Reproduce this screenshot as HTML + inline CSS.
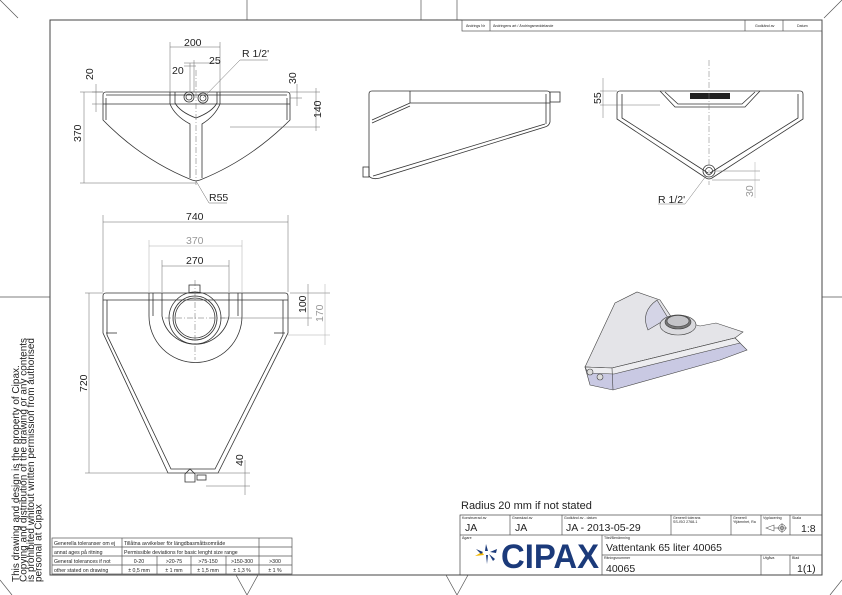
<!DOCTYPE html>
<html><head><meta charset="utf-8"><style>
html,body{margin:0;padding:0;background:#fff}
svg{display:block}
text{font-family:"Liberation Sans",sans-serif}
</style></head><body>
<svg width="842" height="595" viewBox="0 0 842 595" xmlns="http://www.w3.org/2000/svg">
<g fill="none" stroke="#555" stroke-width="0.7">
<rect x="50" y="20" width="772" height="555" stroke="#444" stroke-width="1"/>
<line x1="247" y1="0" x2="247" y2="20"/><line x1="421" y1="0" x2="421" y2="20"/><line x1="457" y1="0" x2="457" y2="20"/>
<line x1="0" y1="297" x2="50" y2="297"/><line x1="822" y1="297" x2="842" y2="297"/>
<line x1="0" y1="0" x2="18" y2="18"/><line x1="842" y1="0" x2="824" y2="18"/>
<polyline points="0,580 12,595"/><polyline points="842,580 830,595"/>
<polyline points="236,575 247,595 258,575"/><polyline points="446,575 457,595 468,575"/>
<rect x="462" y="20" width="360" height="11"/>
<line x1="490" y1="20" x2="490" y2="31"/><line x1="745" y1="20" x2="745" y2="31"/><line x1="783" y1="20" x2="783" y2="31"/>
<rect x="460" y="515" width="362" height="60" stroke="#444"/>
<line x1="460" y1="535" x2="822" y2="535"/><line x1="602" y1="555" x2="822" y2="555"/>
<line x1="602" y1="535" x2="602" y2="575"/>
<line x1="510" y1="515" x2="510" y2="535"/><line x1="562" y1="515" x2="562" y2="535"/><line x1="671" y1="515" x2="671" y2="535"/>
<line x1="731" y1="515" x2="731" y2="535"/><line x1="761" y1="515" x2="761" y2="535"/><line x1="790" y1="515" x2="790" y2="535"/>
<line x1="761" y1="555" x2="761" y2="575"/><line x1="790" y1="555" x2="790" y2="575"/>
<rect x="52" y="538" width="240" height="36"/>
<line x1="52" y1="547" x2="292" y2="547"/><line x1="52" y1="556" x2="292" y2="556"/><line x1="52" y1="565" x2="292" y2="565"/>
<line x1="122" y1="538" x2="122" y2="574"/><line x1="259" y1="538" x2="259" y2="574"/>
<line x1="157" y1="556" x2="157" y2="574"/><line x1="191" y1="556" x2="191" y2="574"/><line x1="226" y1="556" x2="226" y2="574"/>
</g>

<g fill="#222" font-size="3.6">
<text x="466" y="27">Ändrings Nr</text><text x="493" y="27">Ändringens art / Ändringsmeddelande</text>
<text x="755" y="27">Godkänd av</text><text x="797" y="27">Datum</text>
<text x="462" y="519">Konstruerad av</text><text x="512" y="519">Granskad av</text><text x="564" y="519">Godkänd av - datum</text>
<text x="673" y="519">Generell tolerans</text><text x="673" y="523">SS-ISO 2768-1</text>
<text x="733" y="519">Generell</text><text x="733" y="523">Ytjämnhet, Ra</text>
<text x="763" y="519">Vyplacering</text><text x="792" y="519">Skala</text>
<text x="462" y="539">Ägare</text><text x="604" y="539">Titel/Benämning</text>
<text x="604" y="559">Ritningsnummer</text><text x="763" y="559">Utgåva</text><text x="792" y="559">Blad</text>
</g>
<g fill="#222" font-size="10.5">
<text x="465" y="531">JA</text><text x="515" y="531">JA</text><text x="566" y="531">JA - 2013-05-29</text>
<text x="801" y="532">1:8</text>
<text x="606" y="551">Vattentank 65 liter 40065</text>
<text x="606" y="572">40065</text><text x="797" y="572">1(1)</text>
</g>
<text x="461" y="509" font-size="11" fill="#222">Radius 20 mm if not stated</text>
<g fill="none" stroke="#555" stroke-width="0.6">
<path d="M766 528 L774 525 L774 531 Z"/><line x1="774" y1="528" x2="778" y2="528"/>
<circle cx="782" cy="528" r="3.5"/><circle cx="782" cy="528" r="1.8"/>
<line x1="777" y1="528" x2="787" y2="528"/><line x1="782" y1="523" x2="782" y2="533"/>
</g>
<g fill="#f2b600"><path d="M475 556 L482 552 L484 555 Z"/></g>
<g fill="#1b3a7a">
<path d="M486 544 L488 551 L485 551 Z"/><path d="M476 549 L483 552 L481 554 Z"/>
<path d="M490 552 L497 549 L496 553 Z"/><path d="M486 555 L488 555 L487 564 Z"/><path d="M489 554 L495 559 L493 561 Z"/>
</g>
<text x="501" y="568" font-size="34" font-weight="bold" fill="#1b3a7a" textLength="98" lengthAdjust="spacingAndGlyphs">CIPAX</text>

<g fill="#222" font-size="5.2">
<text x="54" y="545">Generella toleranser om ej</text><text x="124" y="545">Tillåtna avvikelser för längdbasmåttsområde</text>
<text x="54" y="554">annat ages på ritning</text><text x="124" y="554">Permissible deviations for basic lenght size range</text>
<text x="54" y="563">General tolerances if not</text><text x="54" y="572">other stated on drawing</text>
<g text-anchor="middle">
<text x="139" y="563">0-20</text><text x="174" y="563">&gt;20-75</text><text x="208" y="563">&gt;75-150</text><text x="242" y="563">&gt;150-300</text><text x="275" y="563">&gt;300</text>
<text x="139" y="572">± 0,5 mm</text><text x="174" y="572">± 1 mm</text><text x="208" y="572">± 1,5 mm</text><text x="242" y="572">± 1,3 %</text><text x="275" y="572">± 1 %</text>
</g></g>
<g fill="#222" font-size="10" transform="translate(19,582) rotate(-90)">
<text x="0" y="0">This drawing and design is the property of Cipax.</text>
<text x="0" y="7.5">Copying and distribution of the drawing or any contents</text>
<text x="0" y="15">is prohibited whitout written permission from authorised</text>
<text x="0" y="22.5">personal at Cipax</text>
</g>

<g fill="none" stroke="#333" stroke-width="0.8">
<path d="M106 92 L287 92 Q290 92 290 95 L290 120 Q250 160 200 180 L196 181 L192 180 Q142 160 103 120 L103 95 Q103 92 106 92 Z"/>
<line x1="103" y1="104" x2="290" y2="104"/><line x1="106" y1="95" x2="287" y2="95"/>
<line x1="106" y1="98" x2="106" y2="120"/><line x1="287" y1="98" x2="287" y2="120"/>
<path d="M170 92 L170 104 Q175 116 190 124 L190 178"/>
<path d="M220 92 L220 104 Q215 116 202 124 L202 178"/>
<path d="M175 92 L175 103 Q180 112 196 118 Q212 112 217 103 L217 92"/>
<circle cx="189" cy="97" r="5"/><circle cx="189" cy="97" r="3"/>
<circle cx="203" cy="98" r="5"/><circle cx="203" cy="98" r="3"/>
</g>
<g fill="none" stroke="#666" stroke-width="0.5">
<line x1="170" y1="42" x2="170" y2="92"/><line x1="220" y1="42" x2="220" y2="92"/><line x1="170" y1="47" x2="220" y2="47"/>
<line x1="184" y1="66" x2="196" y2="66"/><line x1="190" y1="63" x2="190" y2="92"/><line x1="194" y1="60" x2="194" y2="92"/>
<line x1="184" y1="63" x2="220" y2="63"/>
<line x1="203" y1="98" x2="240" y2="60"/><line x1="240" y1="60" x2="268" y2="60"/>
<line x1="92" y1="92" x2="103" y2="92"/><line x1="92" y1="104" x2="103" y2="104"/><line x1="96" y1="84" x2="96" y2="112"/>
<line x1="80" y1="92" x2="103" y2="92"/><line x1="80" y1="183" x2="196" y2="183"/><line x1="84" y1="92" x2="84" y2="183"/>
<line x1="290" y1="92" x2="320" y2="92"/><line x1="290" y1="98" x2="302" y2="98"/><line x1="297" y1="84" x2="297" y2="106"/>
<line x1="230" y1="127" x2="320" y2="127"/><line x1="316" y1="88" x2="316" y2="131"/>
<line x1="196" y1="181" x2="209" y2="203"/><line x1="209" y1="203" x2="227" y2="203"/>
<line x1="196" y1="70" x2="196" y2="185" stroke-dasharray="6 2 1 2"/>
</g>
<g fill="#222" font-size="10.5">
<text x="184" y="46">200</text><text x="172" y="74">20</text><text x="209" y="64">25</text>
<text x="242" y="57">R 1/2'</text><text x="209" y="201">R55</text>
<text transform="translate(93,80) rotate(-90)">20</text>
<text transform="translate(81,142) rotate(-90)">370</text>
<text transform="translate(296,84) rotate(-90)">30</text>
<text transform="translate(321,118) rotate(-90)">140</text>
</g>

<g fill="none" stroke="#333" stroke-width="0.8">
<path d="M372 91 L547 91 Q550 91 550 94 L550 122 Q549 126 545 127 L380 178 Q372 180 369 176 L369 94 Q369 91 372 91 Z"/>
<line x1="410" y1="103" x2="550" y2="103"/><line x1="410" y1="91" x2="410" y2="103"/>
<path d="M410 103 L372 120"/><path d="M410 106 L372 123"/>
<line x1="546" y1="94" x2="546" y2="124"/>
<rect x="550" y="92" width="10" height="10"/><rect x="363" y="167" width="6" height="10"/>
<line x1="373" y1="176" x2="545" y2="124"/>
</g>

<g fill="none" stroke="#333" stroke-width="0.8">
<path d="M620 91 L800 91 Q803 91 803 94 L803 119 L712 178 Q709 180 706 178 L617 119 L617 94 Q617 91 620 91 Z"/>
<path d="M622 94 L622 118 L708 173"/><path d="M798 94 L798 118 L710 173"/>
<path d="M660 91 L675 107 L745 107 L760 91"/><path d="M665 92 L678 104 L742 104 L755 92"/>
<circle cx="709" cy="171" r="6"/><circle cx="709" cy="171" r="3.5"/>
</g>
<rect x="690" y="93" width="40" height="6" fill="#222"/>
<g fill="none" stroke="#777" stroke-width="0.5">
<line x1="709" y1="60" x2="709" y2="185" stroke-dasharray="6 2 1 2"/>
<line x1="600" y1="91" x2="617" y2="91"/><line x1="600" y1="105" x2="660" y2="105"/><line x1="603" y1="78" x2="603" y2="118"/>
<line x1="715" y1="171" x2="760" y2="171"/><line x1="712" y1="180" x2="760" y2="180"/><line x1="755" y1="162" x2="755" y2="198" stroke="#aaa"/>
<line x1="706" y1="176" x2="685" y2="204"/><line x1="658" y1="204" x2="685" y2="204"/>
</g>
<g fill="#222" font-size="10.5">
<text transform="translate(601,104) rotate(-90)">55</text>
<text x="658" y="203">R 1/2'</text>
<text transform="translate(753,197) rotate(-90)" fill="#999">30</text>
</g>

<g fill="none" stroke="#333" stroke-width="0.8">
<path d="M106 293 L285 293 Q288 293 288 296 L288 333 L218 473 L168 473 L103 333 L103 296 Q103 293 106 293 Z"/>
<line x1="103" y1="300" x2="288" y2="300"/>
<path d="M107 300 L107 335 L171 469 L215 469 L283 335 L283 300"/>
<line x1="106" y1="333" x2="117" y2="333"/><line x1="285" y1="333" x2="274" y2="333"/>
<path d="M149 293 L149 316 A46 46 0 0 0 242 316 L242 293"/>
<path d="M153 293 L153 316"/><path d="M238 293 L238 316"/>
<path d="M162 293 L162 316 A34 34 0 0 0 229 316 L229 293"/>
<circle cx="195" cy="318" r="26"/><circle cx="195" cy="318" r="22"/><circle cx="195" cy="318" r="20"/>
<rect x="189" y="285" width="11" height="8"/>
<path d="M185 482 L185 474 L190 469 L195 474 L195 482 Z"/><rect x="197" y="475" width="9" height="5"/>
</g>
<g fill="none" stroke="#666" stroke-width="0.5">
<line x1="103" y1="215" x2="103" y2="292"/><line x1="288" y1="215" x2="288" y2="292"/><line x1="103" y1="222" x2="288" y2="222"/>
<g stroke="#aaa"><line x1="149" y1="240" x2="149" y2="292"/><line x1="242" y1="240" x2="242" y2="292"/><line x1="149" y1="246" x2="242" y2="246"/></g>
<line x1="162" y1="260" x2="162" y2="292"/><line x1="229" y1="260" x2="229" y2="292"/><line x1="162" y1="266" x2="229" y2="266"/>
<line x1="85" y1="293" x2="103" y2="293"/><line x1="85" y1="473" x2="168" y2="473"/><line x1="89" y1="293" x2="89" y2="473"/>
<line x1="290" y1="293" x2="330" y2="293"/><line x1="220" y1="318" x2="312" y2="318"/><line x1="308" y1="284" x2="308" y2="326"/>
<g stroke="#aaa"><line x1="288" y1="335" x2="330" y2="335"/><line x1="325" y1="284" x2="325" y2="345"/></g>
<line x1="218" y1="473" x2="250" y2="473"/><line x1="206" y1="486" x2="250" y2="486"/><line x1="245" y1="460" x2="245" y2="495"/>
<line x1="195" y1="280" x2="195" y2="360" stroke-dasharray="6 2 1 2"/><line x1="165" y1="318" x2="225" y2="318" stroke-dasharray="6 2 1 2"/>
</g>
<g fill="#222" font-size="10.5">
<text x="186" y="220">740</text><text x="186" y="244" fill="#999">370</text><text x="186" y="264">270</text>
<text transform="translate(306,313) rotate(-90)">100</text>
<text transform="translate(323,322) rotate(-90)" fill="#999">170</text>
<text transform="translate(87,392) rotate(-90)">720</text>
<text transform="translate(243,466) rotate(-90)">40</text>
</g>

<!-- ISO view -->
<g stroke="#444" stroke-width="0.6">
<path d="M585 367 L615 303 L637 292 L660 300 L672 318 L700 326 L716 323 L743 332 L735 338 L612 368 Z" fill="#e4e4e8"/>
<path d="M585 367 L612 368 L735 338 L747 350 L720 360 L613 390 L590 385 Z" fill="#c9c9e3"/>
<path d="M585 367 L612 368 L735 338 L740 343 L614 374 L588 373 Z" fill="#ededf0"/>
<path d="M657 300 Q640 312 648 330 L668 318 Z" fill="#d4d4e6"/>
<ellipse cx="678" cy="325" rx="18" ry="10" fill="#dadade"/>
<ellipse cx="678" cy="322" rx="13" ry="7" fill="#777"/>
<ellipse cx="678" cy="321" rx="11" ry="5.5" fill="#c4c4c8"/>
<circle cx="590" cy="372" r="3" fill="#ddd"/><circle cx="600" cy="377" r="3" fill="#ddd"/>
<line x1="612" y1="368" x2="613" y2="390"/>
</g>
</svg>
</body></html>
